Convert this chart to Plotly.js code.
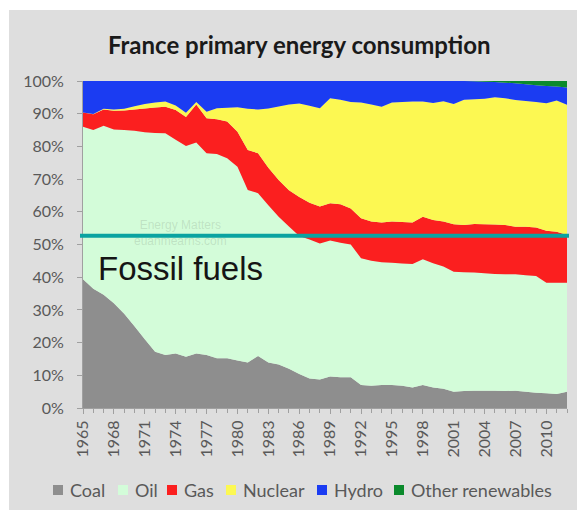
<!DOCTYPE html>
<html><head><meta charset="utf-8">
<script src="https://cdn.plot.ly/plotly-3.0.1.min.js"></script>
<style>
html,body{margin:0;padding:0;background:#ffffff;width:577px;height:510px;overflow:hidden}
#chart{position:absolute;left:9px;top:10px;width:568px;height:500px}
</style>
</head><body><div id="chart"></div>
<script>
// ---- data (percent share of primary energy) ----
const years = [1965,1966,1967,1968,1969,1970,1971,1972,1973,1974,1975,1976,1977,1978,1979,1980,
  1981,1982,1983,1984,1985,1986,1987,1988,1989,1990,1991,1992,1993,1994,1995,1996,1997,1998,1999,
  2000,2001,2002,2003,2004,2005,2006,2007,2008,2009,2010,2011,2012];
const coal = [39.4,36.5,34.6,32.0,28.8,25.0,21.0,17.2,16.2,16.7,15.7,16.7,16.2,15.2,15.2,14.5,
  13.9,15.9,13.9,13.3,12.0,10.4,9.0,8.7,9.6,9.4,9.4,7.0,6.8,7.0,7.0,6.8,6.3,7.0,6.3,
  5.9,5.0,5.2,5.3,5.3,5.3,5.2,5.3,5.0,4.7,4.5,4.3,5.0];
const oil = [46.6,48.5,51.7,53.2,56.2,59.8,63.3,66.9,67.8,65.3,64.4,64.5,61.7,62.5,61.2,59.3,
  52.8,49.8,48.1,45.2,43.5,42.2,42.5,41.6,41.6,41.1,40.6,38.8,38.2,37.6,37.4,37.4,37.7,38.5,38.0,
  37.4,36.7,36.3,36.1,35.9,35.7,35.7,35.6,35.6,35.7,33.8,34.0,33.3];
const gas = [4.4,4.8,5.0,5.7,6.0,6.5,7.3,7.8,8.1,9.1,8.9,11.6,10.7,10.6,11.2,10.7,
  12.2,12.2,11.5,11.2,11.1,11.9,11.3,11.3,11.4,11.8,11.0,12.2,12.0,12.1,12.6,12.7,12.7,13.0,13.2,
  13.7,14.5,14.5,14.9,15.0,15.1,15.1,14.5,14.8,14.8,15.9,15.6,14.6];
const nuclear = [0.0,0.1,0.2,0.4,0.5,1.0,1.4,1.5,1.6,1.4,1.3,0.8,2.0,3.4,4.2,7.5,
  12.6,13.4,18.1,22.5,26.2,28.6,29.6,30.1,32.1,32.0,32.6,35.4,35.8,35.4,36.4,36.7,37.0,35.2,35.8,
  36.8,36.8,38.3,38.1,38.4,38.9,38.7,38.8,38.5,38.4,39.0,40.1,39.8];
const hydro = [9.6,10.1,8.5,8.7,8.5,7.7,7.0,6.6,6.3,7.5,9.7,6.4,9.4,8.3,8.2,8.0,
  8.5,8.7,8.4,7.8,7.2,6.9,7.6,8.3,5.3,5.7,6.4,6.6,7.2,7.9,6.6,6.4,6.3,6.3,6.7,
  6.2,7.0,5.7,5.5,5.2,4.7,4.8,5.1,5.1,5.1,5.3,4.3,5.3];
const otherRen = [0,0,0,0,0,0,0,0,0,0,0,0,0,0,0,0,
  0,0,0,0,0,0,0,0,0,0,0,0,0,0,0,0,0,0,0,
  0,0,0,0.1,0.2,0.3,0.5,0.7,1.0,1.3,1.5,1.7,2.0];
const seriesNames = ["Coal","Oil","Gas","Nuclear","Hydro","Other renewables"];
const fossilShare = 52.7;
const yTicks = [0,10,20,30,40,50,60,70,80,90,100];

// ---- styles ----
const colors = ["#8e8e8e","#d3fcd9","#fb1f1f","#fcf852","#1b3cf2","#0b8a2c"];
const seriesData = [coal, oil, gas, nuclear, hydro, otherRen];

const traces = seriesData.map((vals, i) => ({
  type: "scatter", x: years, y: vals, name: seriesNames[i],
  stackgroup: "one", mode: "none", fillcolor: colors[i],
  line: {width: 0}, hoverinfo: "skip", showlegend: false
}));

// page pixel -> paper coords (plot area: x 83..567, y 81..408 in page px)
const PL = 83, PW = 484, PB = 408, PH = 327;
const px = p => (p - PL) / PW;
const py = p => (PB - p) / PH;

const legSq = [53, 118, 167, 226, 317, 394];
const legTx = [68, 133, 182, 241, 332, 409];
const shapes = [{
  type: "line", xref: "paper", yref: "y", x0: px(80), x1: px(569), y0: fossilShare, y1: fossilShare,
  line: {color: "#0aa3a1", width: 4}
}];
const annotations = [
  {xref:"paper", yref:"paper", x: px(180), y: py(233), xanchor:"center", yanchor:"middle",
   text:"Energy Matters<br>euanmearns.com", showarrow:false,
   font:{family:"Liberation Sans, Arial", size:12, color:"rgba(120,135,120,0.22)"}},
  {xref:"paper", yref:"paper", x: px(96), y: py(268), xanchor:"left", yanchor:"middle",
   text:"Fossil fuels", showarrow:false, font:{family:"Liberation Sans, Arial", size:33, color:"#151515"}}
];
seriesNames.forEach((n, i) => {
  shapes.push({type:"rect", xref:"paper", yref:"paper", x0: px(legSq[i]), x1: px(legSq[i] + 10),
    y0: py(495), y1: py(485), fillcolor: colors[i], line:{width:0}});
  annotations.push({xref:"paper", yref:"paper", x: px(legTx[i]), y: py(490), xanchor:"left", yanchor:"middle",
    text: n, showarrow:false, font:{family:"Lato", size:18, color:"#595959"}});
});

const layout = {
  width: 568, height: 500,
  paper_bgcolor: "#dedede", plot_bgcolor: "#dedede",
  margin: {l: 74, r: 10, t: 71, b: 102},
  title: {text: "<b>France primary energy consumption</b>", x: 0.511, xref: "container", xanchor: "center",
    y: 0.928, yref: "container", yanchor: "middle", font: {family: "Lato", size: 24, color: "#1a1a1a"}},
  xaxis: {type: "linear", range: [1965, 2012], tick0: 1965, dtick: 3, tickangle: -90,
    ticks: "outside", ticklen: 5, tickcolor: "#a0a0a0", showgrid: false, zeroline: false,
    showline: true, linecolor: "#a0a0a0", linewidth: 1,
    minor: {dtick: 1, ticks: "outside", ticklen: 4, tickcolor: "#a0a0a0", showgrid: false},
    tickfont: {family: "Lato", size: 16, color: "#595959"}, fixedrange: true},
  yaxis: {range: [0, 100], tickvals: yTicks, ticktext: yTicks.map(v => v + "%"),
    ticks: "outside", ticklen: 5, tickcolor: "#a0a0a0", showgrid: false, zeroline: false,
    showline: true, linecolor: "#a0a0a0", linewidth: 1, ticklabelstandoff: 10,
    tickfont: {family: "Lato", size: 16, color: "#595959"}, fixedrange: true},
  showlegend: false,
  shapes: shapes, annotations: annotations
};
Plotly.newPlot("chart", traces, layout, {displayModeBar: false, staticPlot: true});
</script>
</body></html>
